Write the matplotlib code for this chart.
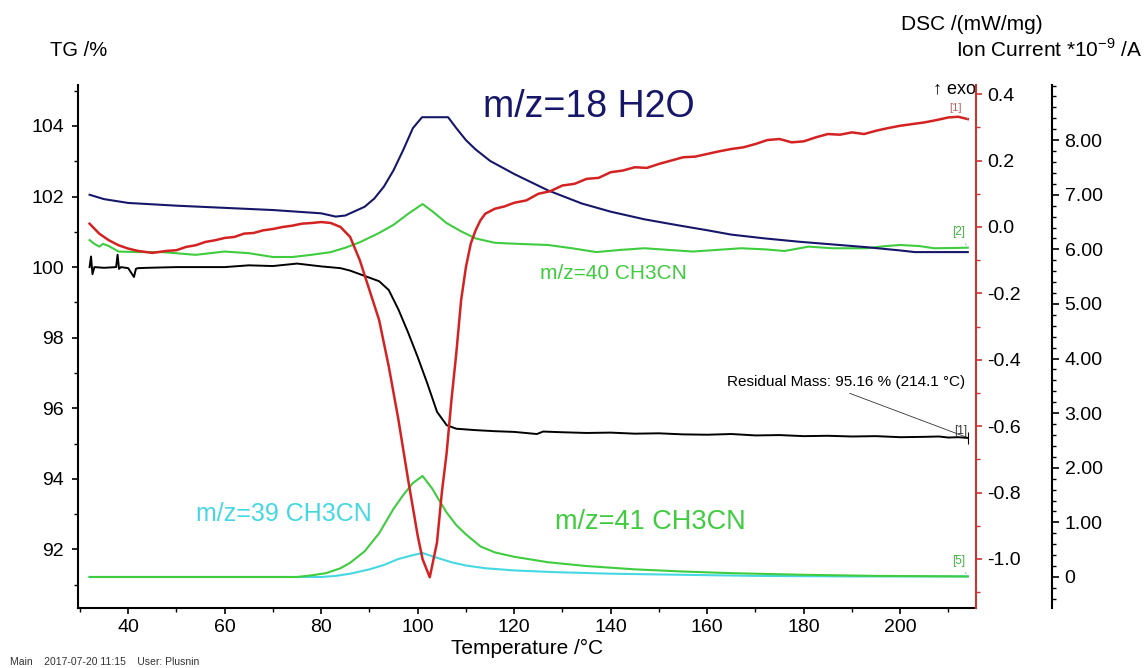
import matplotlib
matplotlib.use("Agg")
import matplotlib.pyplot as plt
from matplotlib.ticker import MultipleLocator, FixedLocator, FuncFormatter

plt.rcParams['font.family'] = ['Liberation Sans', 'DejaVu Sans']
plt.rcParams['axes.unicode_minus'] = False
plt.rcParams['mathtext.fontset'] = 'custom'
plt.rcParams['mathtext.rm'] = 'Liberation Sans'

# TG curve (black, left axis, %)
tg_t = [32, 32.3, 32.6, 33, 35, 37.5, 37.8, 38.1, 38.5, 40, 41.2, 41.6, 42, 44, 50, 60, 65, 70,
        75, 80, 84, 86, 88, 90, 92, 94, 96, 98, 100, 102, 104, 106, 108, 112, 116, 120, 124.7,
        126, 130, 135, 140, 145, 150, 155, 160, 165, 170, 175, 180, 185, 190, 195, 200, 205,
        208, 210, 212, 214]
tg_v = [100.0, 100.3, 99.8, 100.0, 99.98, 100.0, 100.35, 99.95, 100.0, 99.97, 99.72, 99.95,
        99.97, 99.98, 100.0, 100.0, 100.05, 100.03, 100.1, 100.02, 99.97, 99.9, 99.8, 99.7,
        99.6, 99.35, 98.8, 98.15, 97.45, 96.7, 95.9, 95.52, 95.42, 95.38, 95.35, 95.33, 95.27,
        95.34, 95.32, 95.3, 95.31, 95.28, 95.29, 95.26, 95.25, 95.27, 95.23, 95.24, 95.21,
        95.22, 95.2, 95.21, 95.18, 95.19, 95.2, 95.17, 95.18, 95.16]

# DSC curve (red, mW/mg)
dsc_t = [32, 33, 34, 36, 38, 40, 42, 45, 48, 50, 52, 54, 56, 58, 60, 62, 64, 66, 68, 70, 72,
         74, 76, 78, 80, 82, 84, 86, 88, 90, 92, 94, 96, 98, 100, 101, 102.5, 104, 105, 106,
         107, 108, 109, 110, 111, 112, 113, 114, 116, 118, 120, 122.5, 125, 127.5, 130, 132.5,
         135, 137.5, 140, 142.5, 145, 147.5, 150, 152.5, 155, 157.5, 160, 162.5, 165, 167.5,
         170, 172.5, 175, 177.5, 180, 182.5, 185, 187.5, 190, 192.5, 195, 197.5, 200, 202.5,
         205, 207.5, 210, 212, 214]
dsc_v = [0.01, -0.005, -0.02, -0.04, -0.055, -0.065, -0.072, -0.078, -0.072, -0.07, -0.06,
         -0.055, -0.045, -0.04, -0.033, -0.03, -0.02, -0.018, -0.01, -0.006, 0.0, 0.004, 0.01,
         0.012, 0.015, 0.012, 0.0, -0.03, -0.1, -0.19, -0.28, -0.42, -0.58, -0.76, -0.93, -1.0,
         -1.055, -0.95, -0.8, -0.68, -0.52, -0.38, -0.22, -0.12, -0.05, -0.01, 0.02, 0.04,
         0.055, 0.062, 0.073, 0.08, 0.1, 0.108, 0.125, 0.13, 0.145, 0.148, 0.165, 0.17, 0.18,
         0.178, 0.19, 0.2, 0.21, 0.212, 0.22, 0.228, 0.235, 0.24, 0.25, 0.262, 0.265, 0.255,
         0.258, 0.27, 0.28, 0.278, 0.285, 0.28, 0.29, 0.298, 0.305, 0.31, 0.315, 0.322, 0.33,
         0.332, 0.325]

# ion currents (*1e-9 A)
h2o_t = [32, 35, 40, 50, 60, 70, 80, 83, 85, 87, 89, 91, 93, 95, 97, 99, 100.9, 106.3, 108,
         110, 112, 115, 120, 127, 134, 140, 147, 154, 160, 165, 172, 179, 186, 193, 200, 203,
         214]
h2o_v = [7.0, 6.92, 6.85, 6.8, 6.76, 6.72, 6.66, 6.6, 6.62, 6.7, 6.78, 6.93, 7.15, 7.45, 7.82,
         8.22, 8.42, 8.42, 8.22, 8.0, 7.83, 7.62, 7.38, 7.08, 6.84, 6.69, 6.55, 6.44, 6.35,
         6.27, 6.2, 6.14, 6.09, 6.04, 5.98, 5.95, 5.95]

mz40_t = [32, 33, 34, 34.8, 36, 38, 42, 47, 54, 60, 65, 70, 74, 78, 82, 85, 88, 92, 95, 98,
          101, 103, 106, 109, 112, 116, 121, 127, 132, 137, 142, 147, 152, 157, 162, 167, 172,
          176, 181, 186, 193, 197, 200, 204, 207, 214]
mz40_v = [6.17, 6.1, 6.05, 6.1, 6.06, 5.96, 5.95, 5.95, 5.9, 5.96, 5.93, 5.86, 5.86, 5.9,
          5.95, 6.03, 6.13, 6.3, 6.45, 6.65, 6.83, 6.7, 6.48, 6.33, 6.2, 6.12, 6.1, 6.08, 6.02,
          5.95, 5.99, 6.02, 5.99, 5.96, 5.99, 6.02, 6.0, 5.97, 6.05, 6.02, 6.02, 6.06, 6.08,
          6.06, 6.02, 6.03]

mz41_t = [32, 60, 75, 78, 81, 84, 86, 89, 92, 95, 97, 99, 101, 103, 104, 106, 108, 110, 113,
          116, 120, 127, 135, 145, 155, 165, 180, 195, 214]
mz41_v = [0.0, 0.0, 0.0, 0.03, 0.07, 0.16, 0.26, 0.47, 0.8, 1.25, 1.5, 1.72, 1.85, 1.62, 1.47,
          1.18, 0.95, 0.78, 0.56, 0.45, 0.37, 0.27, 0.2, 0.14, 0.1, 0.07, 0.04, 0.02, 0.01]

mz39_t = [32, 80, 83, 86, 90, 93, 96, 99, 101, 103, 107, 110, 114, 120, 128, 140, 155, 170,
          190, 214]
mz39_v = [0.0, 0.0, 0.02, 0.06, 0.14, 0.22, 0.33, 0.4, 0.44, 0.38, 0.27, 0.21, 0.16, 0.12,
          0.09, 0.06, 0.04, 0.02, 0.01, 0.01]

res_t, res_mass = 214.1, 95.16

W, H = 1145, 668
navy = '#17176a'
red = '#d42222'
green = '#3fcc3f'
cyan = '#45d8e2'

fig = plt.figure(figsize=(W / 100, H / 100), dpi=100)
ax = fig.add_axes([78 / W, 1 - 608 / H, 898 / W, 523 / H])
ax2 = ax.twinx()
ax3 = ax.twinx()

ax.set_xlim(29.6, 215.7)
ax.set_ylim(90.34, 105.16)
ax2.set_ylim(-1.1476, 0.4277)
ax3.set_ylim(-0.568, 9.01)

ax3.plot(mz39_t, mz39_v, color=cyan, lw=1.5)
ax3.plot(mz41_t, mz41_v, color=green, lw=1.5)
ax3.plot(mz40_t, mz40_v, color=green, lw=1.5)
ax3.plot(h2o_t, h2o_v, color=navy, lw=1.5)
ax.plot(tg_t, tg_v, color='black', lw=1.4)
ax.set_zorder(3)
ax.patch.set_visible(False)
ax2.plot(dsc_t, dsc_v, color=red, lw=1.8)
ax2.set_zorder(4)

# spines
for s in ['top', 'right']:
    ax.spines[s].set_visible(False)
for a in (ax2, ax3):
    for s in ['top', 'left', 'bottom']:
        a.spines[s].set_visible(False)
ax2.spines['right'].set_color('#cc3333')
ax2.spines['right'].set_linewidth(1.5)
ax3.spines['right'].set_position(('axes', 974 / 898))
ax3.spines['right'].set_linewidth(1.5)
ax.spines['left'].set_linewidth(1.5)
ax.spines['bottom'].set_linewidth(1.5)

# ticks
ax.xaxis.set_major_locator(FixedLocator(range(40, 201, 20)))
ax.xaxis.set_minor_locator(MultipleLocator(10))
ax.yaxis.set_major_locator(FixedLocator(range(92, 105, 2)))
ax.yaxis.set_minor_locator(MultipleLocator(1))
ax.tick_params(which='major', direction='out', length=4, width=1.2, labelsize=14)
ax.tick_params(axis='y', which='major', pad=6)
ax.tick_params(axis='x', which='major', pad=4)
ax.tick_params(which='minor', direction='out', length=3, width=1.0)

ax2.yaxis.set_major_locator(FixedLocator([-1.0, -0.8, -0.6, -0.4, -0.2, 0.0, 0.2, 0.4]))
ax2.yaxis.set_minor_locator(MultipleLocator(0.1))
ax2.yaxis.set_major_formatter(FuncFormatter(lambda v, p: f'{v:.1f}'))
ax2.tick_params(which='major', direction='out', length=4, width=1.2, color='#cc3333',
                labelsize=14, pad=4)
ax2.tick_params(which='minor', direction='out', length=3, width=1.0, color='#cc3333')

ax3.yaxis.set_major_locator(FixedLocator(range(0, 9)))
ax3.yaxis.set_minor_locator(MultipleLocator(0.2))
ax3.yaxis.set_major_formatter(FuncFormatter(lambda v, p: '0' if v == 0 else f'{v:.2f}'))
ax3.tick_params(which='major', direction='out', length=5, width=1.2, labelsize=14, pad=4)
ax3.tick_params(which='minor', direction='out', length=3, width=1.0)

ax.set_xlabel('Temperature /°C', fontsize=15)
ax.xaxis.set_label_coords(0.5, (608 - 639) / 523)

# axis titles
fig.text(50 / W, 1 - 50 / H, 'TG /%', fontsize=14.5, va='center', ha='left')
fig.text(1043 / W, 1 - 25 / H, 'DSC /(mW/mg)', fontsize=15, va='center', ha='right')
fig.text(1143 / W, 1 - 50 / H, 'Ion Current *10$^{\\mathregular{-9}}$ /A', fontsize=15,
         va='center', ha='right')
fig.text(976 / W, 1 - 89 / H, '\u2191 exo', fontsize=13, va='center', ha='right')
fig.text(10 / W, 1 - 662 / H, 'Main    2017-07-20 11:15    User: Plusnin', fontsize=7.5,
         color='#333333', va='center', ha='left')

# curve labels
fig.text(483 / W, 1 - 117 / H, 'm/z=18 H2O', fontsize=27, color=navy, va='baseline')
ax3.text(125.3, 5.55, 'm/z=40 CH3CN', fontsize=15, color=green, va='center')
ax3.text(54, 1.15, 'm/z=39 CH3CN', fontsize=18, color=cyan, va='center')
ax3.text(128.4, 1.0, 'm/z=41 CH3CN', fontsize=19.5, color=green, va='center')

# residual mass
ax.text(164.2, 96.62, 'Residual Mass: 95.16 % (214.1 °C)', fontsize=11, va='baseline')
ax.annotate('', xy=(res_t, res_mass), xytext=(189.0, 96.45),
            arrowprops=dict(arrowstyle='-', lw=0.6, color='#333333'))
ax.plot([res_t], [res_mass], marker='|', markersize=9, color='black', mew=0.8)

# curve end tags
ax2.annotate('[1]', xy=(dsc_t[-1], dsc_v[-1]), xytext=(-4, 8), textcoords='offset points',
             fontsize=8, color='#c06060', ha='right', va='center',
             arrowprops=dict(arrowstyle='-', lw=0.5, color='#999999'))
ax3.annotate('[2]', xy=(mz40_t[-1], mz40_v[-1]), xytext=(-2, 11), textcoords='offset points',
             fontsize=8.5, color='#40b040', ha='right', va='center',
             arrowprops=dict(arrowstyle='-', lw=0.5, color='#999999'))
ax.annotate('[1]', xy=(res_t, res_mass), xytext=(-1, 5), textcoords='offset points',
            fontsize=8.5, color='#333333', ha='right', va='center')
ax3.annotate('[5]', xy=(mz41_t[-1], mz41_v[-1]), xytext=(-2, 11), textcoords='offset points',
             fontsize=8.5, color='#40b040', ha='right', va='center',
             arrowprops=dict(arrowstyle='-', lw=0.5, color='#999999'))

fig.savefig('out.png', dpi=100)
